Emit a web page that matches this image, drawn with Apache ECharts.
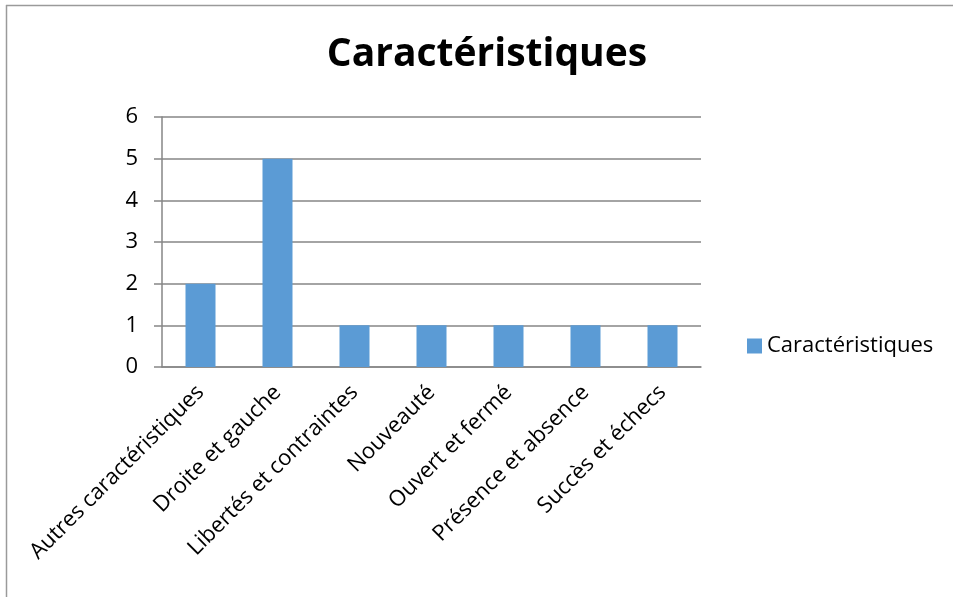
<!DOCTYPE html>
<html>
<head>
<meta charset="utf-8">
<script src="https://cdn.jsdelivr.net/npm/echarts@6/dist/echarts.min.js"></script>
<style>
  html, body { margin: 0; padding: 0; background: #fff; }
  #chart { width: 953px; height: 597px; }
</style>
</head>
<body>
<div id="chart"></div>
<script>
var categories = [
  "Autres caractéristiques",
  "Droite et gauche",
  "Libertés et contraintes",
  "Nouveauté",
  "Ouvert et fermé",
  "Présence et absence",
  "Succès et échecs"
];
var values = [2, 5, 1, 1, 1, 1, 1];
var seriesName = "Caractéristiques";
var chartTitle = "Caractéristiques";

var font = "'Open Sans', 'Noto Sans', sans-serif";
var myChart = echarts.init(document.getElementById("chart"));

var option = {
  backgroundColor: "#fff",
  animation: false,
  // outer frame of the chart area (cut by the page edge on right and bottom)
  graphic: [
    {
      type: "line",
      shape: { x1: 6, y1: 5.5, x2: 953, y2: 5.5 },
      style: { stroke: "#9a9a9a", lineWidth: 1.5 }
    },
    {
      type: "line",
      shape: { x1: 6.5, y1: 5, x2: 6.5, y2: 597 },
      style: { stroke: "#9a9a9a", lineWidth: 1.5 }
    }
  ],
  title: {
    text: chartTitle,
    left: 482,
    top: 30,
    textAlign: "center",
    textStyle: { fontFamily: font, fontSize: 39, fontWeight: "bold", color: "#000" }
  },
  legend: {
    data: [seriesName],
    left: 742,
    top: 330,
    itemWidth: 15,
    itemHeight: 15,
    itemGap: 8,
    icon: "rect",
    textStyle: { fontFamily: font, fontSize: 22, color: "#000" }
  },
  grid: { left: 162, right: 252, top: 117, bottom: 230 },
  xAxis: {
    type: "category",
    data: categories,
    axisLine: { lineStyle: { color: "#868686", width: 1.5 } },
    axisTick: { length: 8, lineStyle: { color: "#868686", width: 1.5 } },
    axisLabel: {
      rotate: 45,
      interval: 0,
      margin: 22,
      fontFamily: font,
      fontSize: 22,
      color: "#000"
    }
  },
  yAxis: {
    type: "value",
    min: 0,
    max: 6,
    interval: 1,
    axisLine: { show: true, lineStyle: { color: "#868686", width: 1.5 } },
    axisTick: { show: true, length: 8, lineStyle: { color: "#868686", width: 1.5 } },
    splitLine: { lineStyle: { color: "#868686", width: 1.5 } },
    axisLabel: { margin: 24, fontFamily: font, fontSize: 22, color: "#000" }
  },
  series: [
    {
      name: seriesName,
      type: "bar",
      data: values,
      barWidth: 30,
      itemStyle: { color: "#5b9bd5" }
    }
  ]
};
myChart.setOption(option);
</script>
</body>
</html>
